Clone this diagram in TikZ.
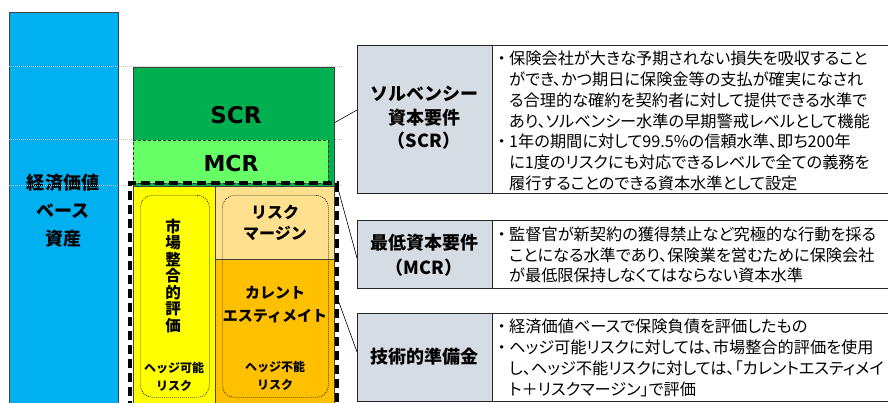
\documentclass[tikz,border=0pt]{standalone}
\usepackage{fontspec}
\setmainfont{Noto Sans CJK JP}
\newfontfamily\jpbody{Noto Sans CJK JP}[RawFeature=+palt]
\newfontfamily\jpplain{Noto Sans CJK JP}
\newfontfamily\latb{DejaVu Sans}
\newcommand\bul{\makebox[15pt][c]{\jpplain ・}}
\newcommand\ind{\hspace*{15pt}}
\definecolor{cblue}{HTML}{00B0F0}
\definecolor{cgreen}{HTML}{00B050}
\definecolor{clgreen}{HTML}{66FF66}
\definecolor{cyellow}{HTML}{FFFF00}
\definecolor{clorange}{HTML}{FFE08F}
\definecolor{corange}{HTML}{FFC000}
\definecolor{clabel}{HTML}{D6DCE4}
\definecolor{cgrid}{HTML}{C4C4C4}
\definecolor{cedge}{HTML}{404040}
\tikzset{
  blk/.style={anchor=north west, inner sep=0pt, outer sep=0pt, draw=cedge, line width=0.7pt},
  txt/.style={inner sep=0pt, align=center, font=\bfseries},
  gridline/.style={cgrid, line width=1pt, dash pattern=on 1pt off 1pt},
  rdot/.style={draw=black, line width=0.7pt, dash pattern=on 0.8pt off 1.2pt, rounded corners=12pt},
  tcell/.style={anchor=north west, inner sep=0pt, outer sep=0pt, draw=black!85, line width=0.8pt},
  body/.style={anchor=west, inner sep=0pt, align=left, font=\jpbody\fontsize{16.2}{20.8}\selectfont},
  conn/.style={black, line width=0.6pt},
  bigdash/.style={black, line width=3.2pt, dash pattern=on 9pt off 5pt}
}
\begin{document}
\begin{tikzpicture}[x=1pt,y=-1pt]
\useasboundingbox (0,0) rectangle (888,403);
% assets column
\node[blk, fill=cblue, minimum width=109, minimum height=400] (asset) at (9,12) {};
\node[txt, font=\bfseries\fontsize{18}{28}\selectfont] (assettxt) at (63,211) {経済価値\\ベース\\資産};
% grid lines
\draw[gridline] (9,67) -- (343,67);
\draw[gridline] (9,140) -- (343,140);
\draw[gridline] (9,186) -- (343,186);
% SCR and MCR
\node[blk, fill=cgreen, minimum width=201, minimum height=119] (scr) at (133,67) {};
\node[txt, font=\latb\bfseries\fontsize{23}{26}\selectfont] (scrtxt) at (236,115) {SCR};
\node[blk, fill=clgreen, draw=black!80, dash pattern=on 3pt off 2pt, minimum width=195, minimum height=43] (mcr) at (133,140) {};
\node[txt, font=\latb\bfseries\fontsize{22}{26}\selectfont] (mcrtxt) at (231,163) {MCR};
% technical provisions
\node[blk, fill=cyellow, minimum width=82, minimum height=224] (mkt) at (133,186) {};
\node[blk, fill=clorange, minimum width=119, minimum height=73] (rm) at (215,186) {};
\node[blk, fill=corange, minimum width=119, minimum height=151] (ce) at (215,259) {};
\node[rdot, anchor=north west, minimum width=69, minimum height=202, inner sep=0pt] (rd1) at (140,195) {};
\node[rdot, anchor=north west, minimum width=106, minimum height=202, inner sep=0pt] (rd2) at (222,195) {};
\node[txt, font=\bfseries\fontsize{15.5}{16.5}\selectfont] (mkttxt) at (173,276) {市\\場\\整\\合\\的\\評\\価};
\node[txt, font=\bfseries\fontsize{12}{17.5}\selectfont] (hedge1) at (174,377) {ヘッジ可能\\リスク};
\node[txt, font=\bfseries\fontsize{16}{20.5}\selectfont] (rmtxt) at (275,223) {リスク\\マージン};
\node[txt, font=\bfseries\fontsize{15}{23}\selectfont] (cetxt) at (275,305) {カレント\\エスティメイト};
\node[txt, font=\bfseries\fontsize{12}{17.5}\selectfont] (hedge2) at (275,376) {ヘッジ不能\\リスク};
\draw[bigdash] (130,410) -- (130,183) -- (337,183) -- (337,410);
% tables
\node[tcell, fill=clabel, minimum width=135, minimum height=148] (t1l) at (357,45) {};
\node[tcell, minimum width=408, minimum height=148] (t1r) at (492,45) {};
\node[tcell, fill=clabel, minimum width=135, minimum height=68] (t2l) at (357,220) {};
\node[tcell, minimum width=408, minimum height=68] (t2r) at (492,220) {};
\node[tcell, fill=clabel, minimum width=135, minimum height=88] (t3l) at (357,313) {};
\node[tcell, minimum width=408, minimum height=88] (t3r) at (492,313) {};
\node[txt, font=\bfseries\fontsize{18}{23.5}\selectfont] (t1lt) at (424,118) {ソルベンシー\\資本要件\\（SCR）};
\node[txt, font=\bfseries\fontsize{18}{25}\selectfont] (t2lt) at (424,255) {最低資本要件\\（MCR）};
\node[txt, font=\bfseries\fontsize{18}{25}\selectfont] (t3lt) at (424,357) {技術的準備金};
\node[body] (t1rt) at (494,121) {\bul 保険会社が大きな予期されない損失を吸収すること\\
\ind ができ、かつ期日に保険金等の支払が確実になされ\\
\ind る合理的な確約を契約者に対して提供できる水準で\\
\ind あり、ソルベンシー水準の早期警戒レベルとして機能\\
\bul 1年の期間に対して99.5\%の信頼水準、即ち200年\\
\ind に1度のリスクにも対応できるレベルで全ての義務を\\
\ind 履行することのできる資本水準として設定};
\node[body] (t2rt) at (494,255) {\bul 監督官が新契約の獲得禁止など究極的な行動を採る\\
\ind ことになる水準であり、保険業を営むために保険会社\\
\ind が最低限保持しなくてはならない資本水準};
\node[body] (t3rt) at (494,358) {\bul 経済価値ベースで保険負債を評価したもの\\
\bul ヘッジ可能リスクに対しては、市場整合的評価を使用\\
\ind し、ヘッジ不能リスクに対しては、「カレントエスティメイ\\
\ind ト＋リスクマージン」で評価};
% connectors
\coordinate (c1s) at (334,123);
\coordinate (c1e) at (357,110);
\coordinate (c2s) at (337,185);
\coordinate (c2e) at (357,258);
\coordinate (c3s) at (337,297);
\coordinate (c3e) at (357,352);
\draw[conn] (c1s) -- (c1e);
\draw[conn] (c2s) -- (c2e);
\draw[conn] (c3s) -- (c3e);
\end{tikzpicture}
\end{document}
